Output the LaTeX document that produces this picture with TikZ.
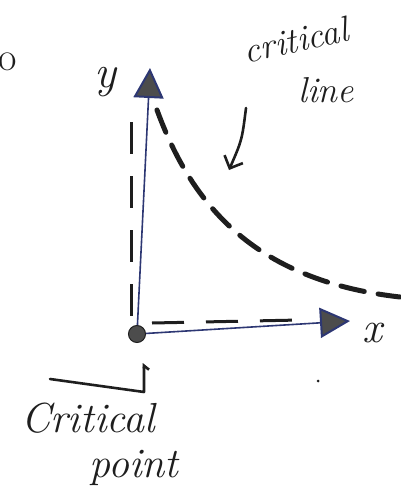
\documentclass[tikz,border=0pt]{standalone}
\usetikzlibrary{arrows.meta}
\definecolor{axisblue}{RGB}{45,55,115}
\definecolor{ink}{RGB}{30,30,30}
\begin{document}
\begin{tikzpicture}[x=1pt,y=-1pt,
  hand/.style={text=ink,font=\fontsize{36}{42}\selectfont\itshape,inner sep=0pt},
  axis/.style={draw=axisblue,line width=1.6pt},
  tipfill/.style={-{Triangle[length=30pt,width=30pt,fill=black!70,line width=2pt]}},
  guide/.style={draw=ink,line width=3pt,dash pattern=on 32pt off 22pt},
  crit/.style={draw=ink,line width=5pt,dash pattern=on 24pt off 14pt,line cap=round},
  pen/.style={draw=ink,line width=2.6pt,line cap=round,line join=round}]
\useasboundingbox (0,0) rectangle (400,495);
% origin
\node[circle,fill=black!70,draw=ink,line width=1pt,minimum size=17pt,inner sep=0pt] (O) at (137,334) {};
\coordinate (ytip) at (150,68);
\coordinate (xtip) at (350,321);
% guide dashes
\coordinate (vd1) at (131,122);
\coordinate (vd2) at (131,322);
\coordinate (hd1) at (152,323);
\coordinate (hd2) at (300,320);
\draw[guide] (vd1) -- (vd2);
\draw[guide] (hd1) -- (hd2);
% axes
\draw[axis,tipfill] (O) -- (ytip);
\draw[axis,tipfill] (O) -- (xtip);
% critical line
\coordinate (cl1) at (157,110);
\coordinate (cl2) at (400,297);
\draw[crit] (cl1) .. controls (190,200) and (250,280) .. (cl2);
% labels
\node[hand,font=\fontsize{46}{50}\selectfont\itshape] (ylab) at (105,82) {y};
\node[hand,font=\fontsize{44}{50}\selectfont\itshape] (xlab) at (372,333) {x};
\node[hand,font=\fontsize{40}{46}\selectfont] (olab) at (8,62) {o};
\node[hand,rotate=12] (critlab) at (296,40) {critical};
\node[hand] (linelab) at (326,90) {line};
\node[hand,font=\fontsize{42}{48}\selectfont\itshape] (cplab1) at (88,418) {Critical};
\node[hand,font=\fontsize{42}{48}\selectfont\itshape] (cplab2) at (134,468) {point};
% arrow to critical line
\coordinate (a1) at (246,108);
\coordinate (a2) at (229,170);
\draw[pen,-{Straight Barb[length=10pt,width=20pt]}] (a1) .. controls (242,140) .. (a2);
% bent arrow to origin
\coordinate (b1) at (50,379);
\coordinate (b2) at (144,392);
\coordinate (b3) at (144,363);
\draw[pen,-{Straight Barb[length=4pt,width=10pt,right]}] (b1) -- (b2) -- (b3);
% stray dot
\node[circle,fill=ink,minimum size=3pt,inner sep=0pt] (dot) at (318,381) {};
\end{tikzpicture}
\end{document}
